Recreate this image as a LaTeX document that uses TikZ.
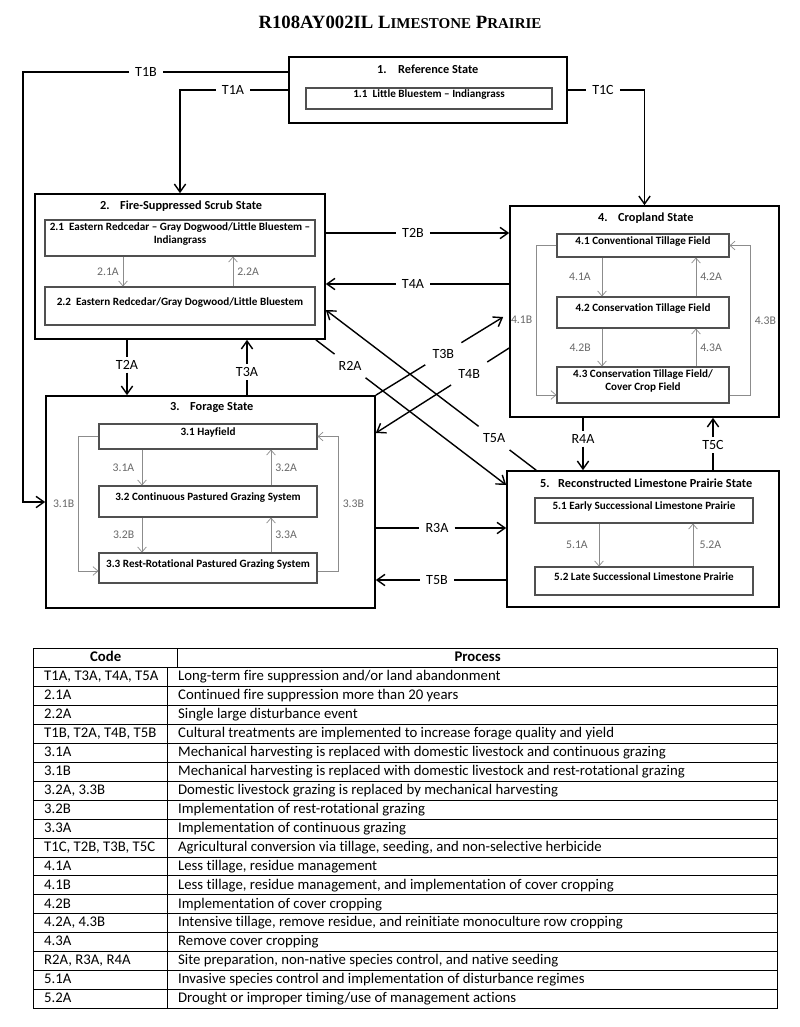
\documentclass[tikz,border=0pt]{standalone}
\usepackage{fontspec}
\setmainfont{Carlito}[Ligatures={TeX,NoCommon}]
\newfontfamily\titlefont{Liberation Serif}
\usepackage{array}
\usetikzlibrary{arrows.meta,fit,calc}
\definecolor{boxgrey}{RGB}{80, 80, 80}
\definecolor{linegrey}{RGB}{140, 140, 140}
\definecolor{labelgrey}{RGB}{105, 105, 105}
\newcommand{\rowstrut}{\rule[-1.6mm]{0pt}{5.4mm}}

\begin{document}
\begin{tikzpicture}
  [
    x=0.3mm, y=-0.3mm,
    >={Straight Barb[length=2.4mm,width=3.4mm]},
    flow/.style={line width=1.2pt},
    inflow/.style={line width=0.6pt, linegrey, >={Straight Barb[length=1.5mm,width=2.6mm]}},
    statebox/.style={draw, line width=1.4pt, inner sep=0pt},
    phasebox/.style={draw=boxgrey, line width=0.9pt, inner sep=0pt, align=center, font=\bfseries\fontsize{9.5}{11}\selectfont},
    heading/.style={anchor=west, inner sep=0pt, font=\bfseries\fontsize{10.5}{12}\selectfont},
    tcode/.style={font=\fontsize{12}{14}\selectfont, inner xsep=5pt, inner ysep=2.5pt},
    dcode/.style={tcode, inner sep=6pt},
    pcode/.style={text=labelgrey, font=\fontsize{10}{12}\selectfont}
  ]
  \path[use as bounding box, fill=white] (0,0) rectangle (800,1027);

  \node (title) at (400,22) {\titlefont\bfseries\fontsize{16}{18}\selectfont R108AY002IL L{\fontsize{12.8}{14}\selectfont IMESTONE} P{\fontsize{12.8}{14}\selectfont RAIRIE}};

  % states
  \node[statebox, fit={(289,57) (567,123)}] (s1) {};
  \node[statebox, fit={(35,194) (325,339)}] (s2) {};
  \node[statebox, fit={(46,396) (375,608)}] (s3) {};
  \node[statebox, fit={(510,206) (779,417)}] (s4) {};
  \node[statebox, fit={(507,471) (779,607)}] (s5) {};

  \node[heading] (h1) at (377,69) {\makebox[6.3mm][l]{1.}Reference State};
  \node[heading] (h2) at (100,206) {\makebox[6mm][l]{2.}Fire-Suppressed Scrub State};
  \node[heading] (h3) at (170,408) {\makebox[6mm][l]{3.}Forage State};
  \node[heading] (h4) at (598,218) {\makebox[6mm][l]{4.}Cropland State};
  \node[heading] (h5) at (540,483) {\makebox[5.4mm][l]{5.}Reconstructed Limestone Prairie State};

  % community phases
  \node[phasebox, fit={(306,88) (552,109)}] (b11) {1.1\ \ Little Bluestem – Indiangrass};
  \node[phasebox, fit={(45,220) (315,256)}] (b21) {2.1\ \ Eastern Redcedar – Gray Dogwood/Little Bluestem –\\Indiangrass};
  \node[phasebox, fit={(45,287) (315,325)}] (b22) {2.2\ \ Eastern Redcedar/Gray Dogwood/Little Bluestem};
  \node[phasebox, fit={(99,424) (317,449)}] (b31) {3.1 Hayfield};
  \node[phasebox, fit={(99,486) (317,517)}] (b32) {3.2 Continuous Pastured Grazing System};
  \node[phasebox, fit={(99,553) (317,583)}] (b33) {3.3 Rest-Rotational Pastured Grazing System};
  \node[phasebox, fit={(557,234) (729,257)}] (b41) {4.1 Conventional Tillage Field};
  \node[phasebox, fit={(557,297) (729,328)}] (b42) {4.2 Conservation Tillage Field};
  \node[phasebox, fit={(557,367) (729,403)}] (b43) {4.3 Conservation Tillage Field/\\Cover Crop Field};
  \node[phasebox, fit={(535,498) (753,523)}] (b51) {5.1 Early Successional Limestone Prairie};
  \node[phasebox, fit={(535,567) (753,595)}] (b52) {5.2 Late Successional Limestone Prairie};

  % pathways inside the states
  \draw[inflow,->] (b21.south -| 123,0) -- node[pcode,left] {2.1A} (b22.north -| 123,0);
  \draw[inflow,->] (b22.north -| 233,0) -- node[pcode,right] {2.2A} (b21.south -| 233,0);
  \draw[inflow,->] (b31.south -| 142,0) -- node[pcode,left=3pt] {3.1A} (b32.north -| 142,0);
  \draw[inflow,->] (b32.north -| 271,0) -- node[pcode,right] {3.2A} (b31.south -| 271,0);
  \draw[inflow,->] (b32.south -| 142,0) -- node[pcode,left=3pt] {3.2B} (b33.north -| 142,0);
  \draw[inflow,->] (b33.north -| 271,0) -- node[pcode,right] {3.3A} (b32.south -| 271,0);
  \draw[inflow,->] (b31.west) -- ++(-20,0) |- node[pcode,pos=.25,left] {3.1B} (b33.west |- 0,571);
  \draw[inflow,->] (b33.east |- 0,571) -- ++(21,0) |- node[pcode,pos=.25,right] {3.3B} (b31.east);
  \draw[inflow,->] (b41.south -| 602,0) -- node[pcode,left=6pt] {4.1A} (b42.north -| 602,0);
  \draw[inflow,->] (b42.north -| 696,0) -- node[pcode,right] {4.2A} (b41.south -| 696,0);
  \draw[inflow,->] (b42.south -| 602,0) -- node[pcode,left=6pt] {4.2B} (b43.north -| 602,0);
  \draw[inflow,->] (b43.north -| 696,0) -- node[pcode,right] {4.3A} (b42.south -| 696,0);
  \draw[inflow,->] (b41.west) -- ++(-20,0) |- node[pcode,pos=.25,left=0pt] {4.1B} (b43.west |- 0,395);
  \draw[inflow,->] (b43.east |- 0,395) -- ++(21,0) |- node[pcode,pos=.25,right=0pt] {4.3B} (b41.east);
  \draw[inflow,->] (b51.south -| 599,0) -- node[pcode,left=6pt] {5.1A} (b52.north -| 599,0);
  \draw[inflow,->] (b52.north -| 693,0) -- node[pcode,right=2pt] {5.2A} (b51.south -| 693,0);

  % transitions
  \node[tcode] (t1b) at (146,72) {T1B};
  \node[tcode] (t1a) at (233,90) {T1A};
  \node[tcode] (t1c) at (603,90) {T1C};
  \coordinate (t1b-turn) at (23,502);
  \draw[flow] (s1.west |- t1b) -- (t1b);
  \draw[flow,->] (t1b) -| (t1b-turn) -- (s3.west |- t1b-turn);
  \draw[flow] (s1.west) -- (t1a);
  \draw[flow,->] (t1a) -| (s2.north);
  \draw[flow] (s1.east) -- (t1c);
  \draw[flow,->] (t1c) -| (s4.north);

  \node[tcode] (t2a) at (127,365) {T2A};
  \draw[flow] (s2.south -| t2a) -- (t2a);
  \draw[flow,->] (t2a) -- (s3.north -| t2a);
  \node[tcode] (t3a) at (247,372) {T3A};
  \draw[flow] (s3.north -| t3a) -- (t3a);
  \draw[flow,->] (t3a) -- (s2.south -| t3a);
  \node[tcode] (t2b) at (413,233) {T2B};
  \draw[flow] (s2.east |- t2b) -- (t2b);
  \draw[flow,->] (t2b) -- (s4.west |- t2b);
  \node[tcode] (t4a) at (413,284) {T4A};
  \draw[flow] (s4.west |- t4a) -- (t4a);
  \draw[flow,->] (t4a) -- (s2.east |- t4a);
  \node[tcode] (r3a) at (437,528) {R3A};
  \draw[flow] (s3.east |- r3a) -- (r3a);
  \draw[flow,->] (r3a) -- (s5.west |- r3a);
  \node[tcode] (t5b) at (437,580) {T5B};
  \draw[flow] (s5.west |- t5b) -- (t5b);
  \draw[flow,->] (t5b) -- (s3.east |- t5b);
  \node[tcode] (r4a) at (583,439) {R4A};
  \draw[flow] (s4.south -| r4a) -- (r4a);
  \draw[flow,->] (r4a) -- (s5.north -| r4a);
  \node[tcode] (t5c) at (713,445) {T5C};
  \draw[flow] (s5.north -| t5c) -- (t5c);
  \draw[flow,->] (t5c) -- (s4.south -| t5c);

  % crossing transitions
  \coordinate (r2a-from) at ($(s2.south east)+(-10,0)$);
  \coordinate (r2a-to) at (s5.west |- 0,485);
  \path (r2a-from) -- node[dcode,pos=.18] (r2a) {R2A} (r2a-to);
  \draw[flow] (r2a-from) -- (r2a);
  \draw[flow,->] (r2a) -- (r2a-to);
  \coordinate (t5a-from) at ($(s5.north west)+(30,0)$);
  \coordinate (t5a-to) at (s2.east |- 0,310);
  \path (t5a-from) -- node[dcode,pos=.2] (t5a) {T5A} (t5a-to);
  \draw[flow] (t5a-from) -- (t5a);
  \draw[flow,->] (t5a) -- (t5a-to);
  \coordinate (t3b-to) at ($(s4.west |- 0,317)+(-6,0)$);
  \path (s3.north east) -- node[dcode,pos=.53] (t3b) {T3B} (t3b-to);
  \draw[flow] (s3.north east) -- (t3b);
  \draw[flow,->] (t3b) -- (t3b-to);
  \coordinate (t4b-from) at (s4.west |- 0,348);
  \coordinate (t4b-to) at (s3.east |- 0,433);
  \path (t4b-from) -- node[dcode,pos=.3] (t4b) {T4B} (t4b-to);
  \draw[flow] (t4b-from) -- (t4b);
  \draw[flow,->] (t4b) -- (t4b-to);

  % key
  \node[anchor=north west, inner sep=0pt, font=\fontsize{12.6}{14}\selectfont] (key) at (33,648) {%
    \setlength{\arrayrulewidth}{0.8pt}%
    \begin{tabular}{|@{\hspace{3mm}}p{34.8mm}|@{\hspace{3mm}}p{177.6mm}|}
      \hline
      \multicolumn{1}{|c|}{\rowstrut\textbf{Code}} & \multicolumn{1}{c|}{\textbf{Process}} \\ \hline
      \rowstrut T1A, T3A, T4A, T5A & Long-term fire suppression and/or land abandonment \\ \hline
      \rowstrut 2.1A & Continued fire suppression more than 20 years \\ \hline
      \rowstrut 2.2A & Single large disturbance event \\ \hline
      \rowstrut T1B, T2A, T4B, T5B & Cultural treatments are implemented to increase forage quality and yield \\ \hline
      \rowstrut 3.1A & Mechanical harvesting is replaced with domestic livestock and continuous grazing \\ \hline
      \rowstrut 3.1B & Mechanical harvesting is replaced with domestic livestock and rest-rotational grazing \\ \hline
      \rowstrut 3.2A, 3.3B & Domestic livestock grazing is replaced by mechanical harvesting \\ \hline
      \rowstrut 3.2B & Implementation of rest-rotational grazing \\ \hline
      \rowstrut 3.3A & Implementation of continuous grazing \\ \hline
      \rowstrut T1C, T2B, T3B, T5C & Agricultural conversion via tillage, seeding, and non-selective herbicide \\ \hline
      \rowstrut 4.1A & Less tillage, residue management \\ \hline
      \rowstrut 4.1B & Less tillage, residue management, and implementation of cover cropping \\ \hline
      \rowstrut 4.2B & Implementation of cover cropping \\ \hline
      \rowstrut 4.2A, 4.3B & Intensive tillage, remove residue, and reinitiate monoculture row cropping \\ \hline
      \rowstrut 4.3A & Remove cover cropping \\ \hline
      \rowstrut R2A, R3A, R4A & Site preparation, non-native species control, and native seeding \\ \hline
      \rowstrut 5.1A & Invasive species control and implementation of disturbance regimes \\ \hline
      \rowstrut 5.2A & Drought or improper timing/use of management actions \\ \hline
    \end{tabular}};
\end{tikzpicture}
\end{document}
